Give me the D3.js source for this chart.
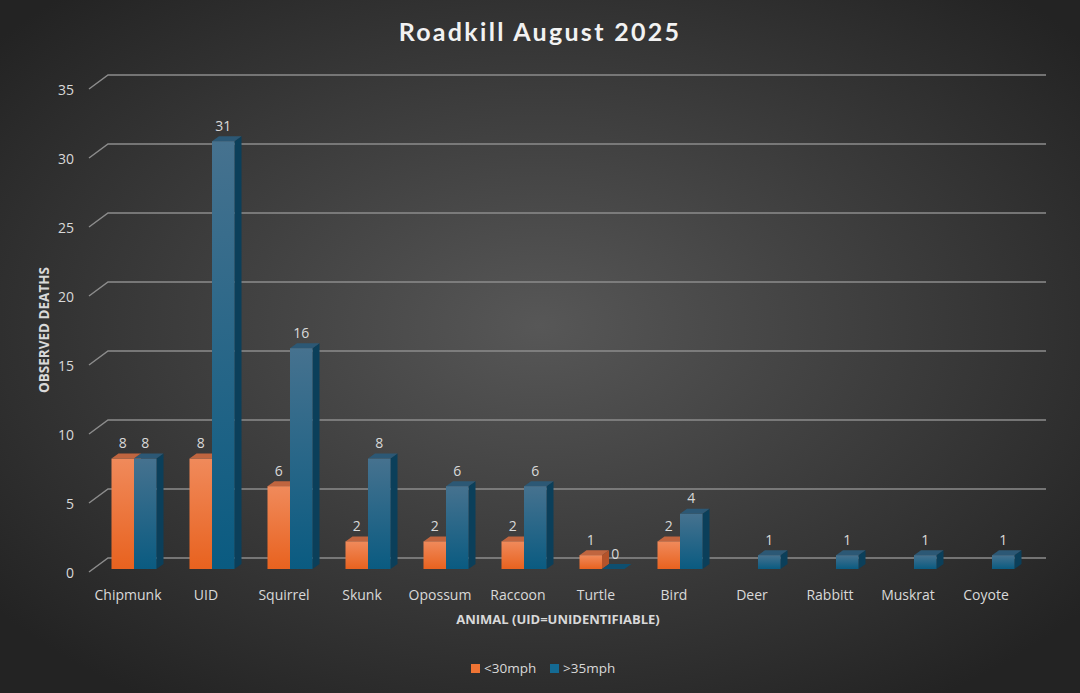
<!DOCTYPE html>
<html><head><meta charset="utf-8">
<script src="https://cdn.jsdelivr.net/npm/d3@7"></script>
<style>html,body{margin:0;padding:0;background:#2b2b2b;}svg{display:block;}</style>
</head><body>
<svg id="c" width="1080" height="693"></svg>
<script>
const categories = ["Chipmunk","UID","Squirrel","Skunk","Opossum","Raccoon","Turtle","Bird","Deer","Rabbitt","Muskrat","Coyote"];
const seriesNames = ["<30mph", ">35mph"];
const below30 = [8, 8, 6, 2, 2, 2, 1, 2, null, null, null, null];
const above35 = [8, 31, 16, 8, 6, 6, 0, 4, 1, 1, 1, 1];
const yTicks = [0, 5, 10, 15, 20, 25, 30, 35];
const titleText = "Roadkill August 2025";
const xTitle = "ANIMAL (UID=UNIDENTIFIABLE)";
const yTitle = "OBSERVED DEATHS";

const W = 1080, H = 693;
const svg = d3.select("#c");
const defs = svg.append("defs");

// background
const bg = defs.append("radialGradient").attr("id","bg").attr("cx","50%").attr("cy","47%").attr("r","65%");
bg.append("stop").attr("offset","0%").attr("stop-color","#575757");
bg.append("stop").attr("offset","100%").attr("stop-color","#232323");
svg.append("rect").attr("width",W).attr("height",H).attr("fill","url(#bg)");

function lin(id, top, bot){
  const g = defs.append("linearGradient").attr("id",id).attr("x1",0).attr("y1",0).attr("x2",0).attr("y2",1);
  g.append("stop").attr("offset","0%").attr("stop-color",top);
  g.append("stop").attr("offset","100%").attr("stop-color",bot);
}
lin("gO","#f08a5b","#e8621f");
lin("gB","#46728f","#0a5b81");

const colors = [
  {front:"url(#gO)", side:"#b4532a", top:"#c0653f", key:"#ef7434"},
  {front:"url(#gB)", side:"#0b3f5a", top:"#2c5875", key:"#146a93"}
];

// geometry: back wall, bar plane, front plane
const wallX0 = 108, wallX1 = 1046;
const yBack = d3.scaleLinear().domain([0,35]).range([558, 75]);
const frontOff = {dx:-19, dy:14};
const barOff = {dx:-13, dy:11};
const depth = {dx:7, dy:-5};

const x = d3.scaleBand().domain(categories).range([95, 1031]).paddingInner(0.423).paddingOuter(0.2115);
const xs = d3.scaleBand().domain(seriesNames).range([0, x.bandwidth()]);

const txt = "#d9d9d9";
const font = "'Open Sans', 'Noto Sans', sans-serif";

// gridlines
const grid = svg.append("g");
yTicks.forEach(t => {
  const y = yBack(t);
  grid.append("path")
    .attr("d", `M${wallX0+frontOff.dx},${y+frontOff.dy} L${wallX0},${y} L${wallX1},${y}`)
    .attr("fill","none").attr("stroke","#8c8c8c").attr("stroke-width",1.5);
  svg.append("text").attr("x", 74).attr("y", y+frontOff.dy)
    .attr("text-anchor","end").attr("dominant-baseline","central")
    .attr("fill",txt).attr("font-family",font).attr("font-size",14).text(t);
});

// bars
const yBar = v => yBack(v) + barOff.dy;
const bars = svg.append("g");
const data = [below30, above35];
categories.forEach((c, i) => {
  data.forEach((arr, s) => {
    const v = arr[i];
    if (v === null || v === undefined) return;
    const x0 = x(c) + xs(seriesNames[s]);
    const w = xs.bandwidth();
    const yT = yBar(v), yB = yBar(0);
    const col = colors[s];
    bars.append("path").attr("d",
      `M${x0+w},${yT} L${x0+w+depth.dx},${yT+depth.dy} L${x0+w+depth.dx},${yB+depth.dy} L${x0+w},${yB} Z`)
      .attr("fill", col.side);
    bars.append("path").attr("d",
      `M${x0},${yT} L${x0+depth.dx},${yT+depth.dy} L${x0+w+depth.dx},${yT+depth.dy} L${x0+w},${yT} Z`)
      .attr("fill", v === 0 ? "#0e4f70" : col.top);
    if (v > 0) bars.append("rect").attr("x", x0).attr("y", yT).attr("width", w).attr("height", yB - yT)
      .attr("fill", col.front);
    svg.append("text").attr("x", x0 + w/2 + (v===0 ? 2 : 0)).attr("y", yT - 16)
      .attr("text-anchor","middle").attr("dominant-baseline","central")
      .attr("fill",txt).attr("font-family",font).attr("font-size",14).text(v);
  });
  svg.append("text").attr("x", x(c) + x.bandwidth()/2 - 6).attr("y", 594)
    .attr("text-anchor","middle").attr("dominant-baseline","central")
    .attr("fill",txt).attr("font-family",font).attr("font-size",14).text(c);
});

// titles
svg.append("text").attr("x", 540).attr("y", 31).attr("text-anchor","middle").attr("dominant-baseline","central")
  .attr("fill","#f2f2f2").attr("font-family","Lato, 'Open Sans', sans-serif").attr("font-weight","bold")
  .attr("font-size",25).attr("letter-spacing","2.3px").text(titleText);
svg.append("text").attr("x", 558).attr("y", 619).attr("text-anchor","middle").attr("dominant-baseline","central")
  .attr("fill",txt).attr("font-family",font).attr("font-weight","bold").attr("font-size",13).text(xTitle);
svg.append("text").attr("transform","translate(44,330) rotate(-90)").attr("text-anchor","middle").attr("dominant-baseline","central")
  .attr("fill",txt).attr("font-family",font).attr("font-weight","bold").attr("font-size",13.5).text(yTitle);

// legend
const leg = svg.append("g");
const legX = [471, 550];
seriesNames.forEach((n, s) => {
  leg.append("rect").attr("x", legX[s]).attr("y", 664).attr("width", 9).attr("height", 9).attr("fill", colors[s].key);
  leg.append("text").attr("x", legX[s] + 13).attr("y", 668).attr("dominant-baseline","central")
    .attr("fill",txt).attr("font-family",font).attr("font-size",13.5).text(n);
});
</script>
</body></html>
